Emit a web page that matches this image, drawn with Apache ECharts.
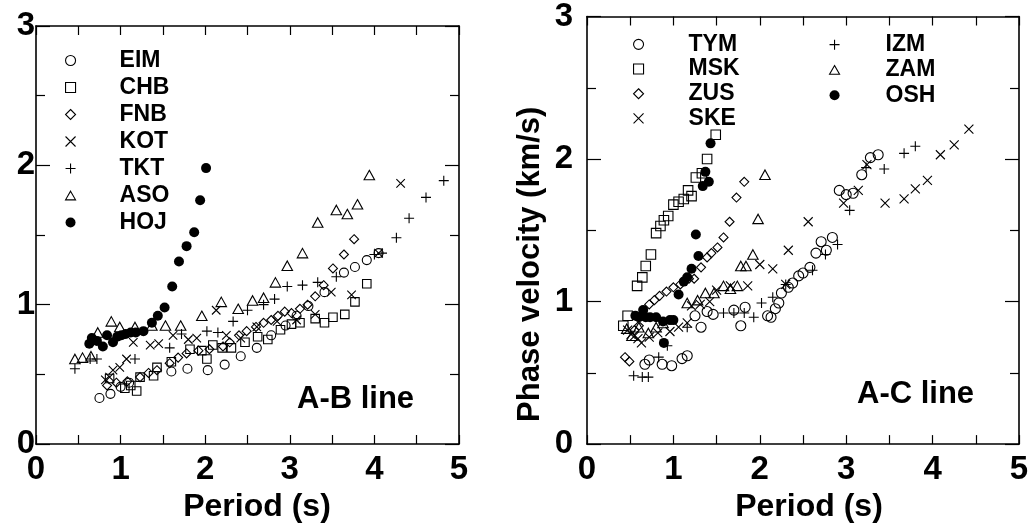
<!DOCTYPE html>
<html>
<head>
<meta charset="utf-8">
<script src="https://cdn.jsdelivr.net/npm/echarts@6/dist/echarts.min.js"></script>
<style>html,body{margin:0;padding:0;background:#fff}#c{width:1032px;height:528px}</style>
</head>
<body>
<div id="c"></div>
<script>
// ---------- data: A-B line ----------
const eimX = [0.75,0.88,1.00,1.10,1.60,1.79,2.03,2.23,2.42,2.61,2.78,2.95,3.08,3.22,3.41,3.64,3.77,3.91,4.05];
const eimY = [0.33,0.36,0.41,0.44,0.52,0.54,0.53,0.57,0.63,0.69,0.78,0.85,0.92,0.99,1.09,1.23,1.27,1.32,1.37];
const chbX = [0.87,1.05,1.12,1.19,1.23,1.39,1.43,1.60,1.82,1.96,2.02,2.09,2.20,2.31,2.47,2.62,2.74,2.89,3.02,3.12,3.30,3.41,3.51,3.65,3.77,3.91];
const chbY = [0.47,0.40,0.42,0.38,0.48,0.49,0.55,0.59,0.68,0.67,0.61,0.71,0.69,0.69,0.73,0.77,0.75,0.82,0.86,0.87,0.90,0.87,0.91,0.93,1.02,1.15];
const fnbX = [0.84,0.95,1.08,1.23,1.33,1.43,1.58,1.68,1.78,1.92,2.05,2.21,2.29,2.40,2.49,2.60,2.69,2.78,2.86,2.94,3.02,3.12,3.21,3.30,3.40,3.51,3.64,3.76];
const fnbY = [0.42,0.44,0.45,0.48,0.51,0.53,0.58,0.62,0.65,0.67,0.68,0.70,0.73,0.78,0.81,0.84,0.87,0.89,0.92,0.95,0.94,0.97,1.00,1.06,1.14,1.26,1.36,1.47];
const kotX = [0.82,0.87,0.91,0.99,1.07,1.15,1.35,1.45,1.62,1.80,1.90,2.13,2.25,2.42,2.61,2.85,3.08,3.30,3.49,3.73,4.05,4.31];
const kotY = [0.46,0.48,0.53,0.55,0.61,0.73,0.71,0.72,0.78,0.75,0.76,0.96,0.78,0.76,0.84,0.88,0.89,0.93,1.09,1.07,1.37,1.87];
const tktX = [0.46,0.64,0.72,1.17,1.58,1.72,2.02,2.15,2.33,2.50,2.69,2.82,2.97,3.15,3.33,3.55,4.00,4.09,4.26,4.41,4.61,4.82];
const tktY = [0.54,0.61,0.61,0.61,0.69,0.79,0.81,0.80,0.88,0.96,1.00,1.04,1.13,1.14,1.16,1.20,1.36,1.37,1.48,1.62,1.77,1.89];
const asoX = [0.46,0.55,0.65,0.73,0.89,0.99,1.17,1.37,1.53,1.71,1.96,2.19,2.39,2.56,2.69,2.83,2.97,3.15,3.33,3.55,3.68,3.80,3.94];
const asoY = [0.61,0.62,0.63,0.80,0.88,0.84,0.84,0.85,0.85,0.85,0.92,1.02,0.97,1.03,1.05,1.16,1.28,1.37,1.59,1.68,1.65,1.72,1.93];
const hojX = [0.63,0.66,0.72,0.79,0.84,0.91,0.96,1.01,1.06,1.12,1.18,1.27,1.37,1.44,1.52,1.61,1.69,1.78,1.87,1.94,2.01];
const hojY = [0.72,0.76,0.74,0.70,0.78,0.73,0.77,0.78,0.79,0.80,0.80,0.81,0.87,0.92,0.98,1.13,1.31,1.42,1.52,1.75,1.98];

// ---------- data: A-C line ----------
const tymX = [0.67,0.72,0.87,0.98,1.10,1.16,1.25,1.32,1.39,1.46,1.70,1.78,1.83,2.09,2.13,2.18,2.22,2.25,2.33,2.38,2.45,2.50,2.58,2.65,2.71,2.77,2.84,2.92,3.00,3.08,3.18,3.28,3.37];
const tymY = [0.56,0.59,0.56,0.55,0.60,0.62,0.90,0.82,0.93,0.91,0.94,0.83,0.96,0.90,0.89,0.95,0.99,1.06,1.10,1.13,1.18,1.20,1.24,1.34,1.42,1.36,1.45,1.78,1.75,1.76,1.89,2.01,2.03];
const mskX = [0.42,0.47,0.58,0.64,0.68,0.74,0.80,0.85,0.89,0.94,1.00,1.06,1.12,1.17,1.21,1.26,1.33,1.39,1.49];
const mskY = [0.83,0.90,1.11,1.17,1.25,1.33,1.48,1.53,1.57,1.60,1.68,1.70,1.72,1.78,1.74,1.87,1.90,2.00,2.17];
const zusX = [0.44,0.49,0.55,0.60,0.66,0.72,0.78,0.84,0.92,1.00,1.08,1.18,1.24,1.32,1.39,1.44,1.51,1.58,1.65,1.73,1.82];
const zusY = [0.61,0.58,0.80,0.83,0.90,0.98,1.01,1.04,1.07,1.10,1.12,1.16,1.16,1.24,1.31,1.34,1.38,1.45,1.56,1.73,1.84];
const skeX = [0.47,0.51,0.55,0.59,0.63,0.72,0.82,0.96,1.06,1.16,1.21,1.31,1.42,1.50,1.66,1.86,2.00,2.15,2.30,2.33,2.56,2.97,3.14,3.24,3.45,3.67,3.80,3.94,4.09,4.25,4.42];
const skeY = [0.80,0.77,0.76,0.74,0.71,0.75,0.78,0.79,0.82,0.85,0.97,0.98,1.00,1.08,1.11,1.11,1.26,1.23,1.12,1.36,1.56,1.69,1.78,1.96,1.69,1.72,1.79,1.85,2.03,2.10,2.21];
const izmX = [0.54,0.64,0.71,0.83,0.93,1.16,1.58,1.70,1.82,1.93,2.02,2.15,2.30,2.61,2.76,2.90,3.04,3.23,3.44,3.67,3.80];
const izmY = [0.48,0.47,0.47,0.61,0.69,0.82,0.92,0.92,0.92,0.89,0.99,1.03,1.12,1.22,1.33,1.40,1.64,1.94,1.93,2.04,2.09];
const zamX = [0.46,0.52,0.60,0.71,0.80,0.88,1.16,1.28,1.37,1.47,1.58,1.66,1.74,1.78,1.84,1.92,1.98,2.06];
const zamY = [0.81,0.76,0.82,0.78,0.82,0.85,0.99,1.01,1.06,1.06,1.11,1.09,1.11,1.25,1.25,1.33,1.58,1.89];
const oshX = [0.56,0.60,0.65,0.68,0.73,0.80,0.88,0.89,0.96,1.00,1.06,1.12,1.16,1.21,1.29,1.26,1.34,1.37,1.41,1.43];
const oshY = [0.90,0.89,0.94,0.89,0.89,0.89,0.86,0.71,0.87,0.87,1.05,1.14,1.17,1.23,1.32,1.47,1.81,1.91,1.84,2.11];

const leftNames = ['EIM','CHB','FNB','KOT','TKT','ASO','HOJ'];
const rightNames1 = ['TYM','MSK','ZUS','SKE'];
const rightNames2 = ['IZM','ZAM','OSH'];
const xTickLabels = ['0','1','2','3','4','5'];
const yTickLabels = ['0','1','2','3'];
const xName = 'Period (s)';
const yName = 'Phase velocity (km/s)';

// ---------- styling ----------
const FONT = "'Liberation Sans', Arial, Helvetica, sans-serif";
const SYM = {
  circle: 'circle',
  square: 'path://M0,0L10,0L10,10L0,10Z',
  diamond: 'path://M5,0L10,5L5,10L0,5Z',
  triangle: 'path://M5,0L10,8.7L0,8.7Z',
  plus: 'path://M0,5L10,5M5,0L5,10',
  cross: 'path://M0,0L10,10M10,0L0,10',
  dot: 'circle'
};
function zip(xs, ys) { return xs.map((x, i) => [x, ys[i]]); }

function series(name, xs, ys, sym, size, gi, filled) {
  return {
    type: 'scatter', name: name, xAxisIndex: gi * 2, yAxisIndex: gi * 2,
    data: zip(xs, ys), symbol: SYM[sym], symbolSize: size,
    itemStyle: filled ? { color: '#000', borderWidth: 0, opacity: 1 }
                      : { color: 'rgba(0,0,0,0)', borderColor: '#000', borderWidth: 1.1, opacity: 1 },
    emphasis: { disabled: true }, silent: true, z: filled ? 3 : 2
  };
}

const lineSty = { color: '#000', width: 1.6 };
function xAxes(gi, padLeft) {
  const base = {
    type: 'value', gridIndex: gi, min: 0, max: 5, interval: 1,
    axisLine: { show: true, onZero: false, lineStyle: lineSty },
    axisTick: { show: true, inside: true, length: 9, lineStyle: { color: '#000', width: 1.2 } },
    minorTick: { show: true, splitNumber: 2, length: 9, lineStyle: { color: '#000', width: 1.2 } },
    splitLine: { show: false }, minorSplitLine: { show: false }
  };
  return [
    Object.assign({}, base, {
      position: 'bottom',
      axisLabel: { show: true, margin: 9, color: '#000', fontSize: 33, fontWeight: 'bold', fontFamily: FONT,
                   formatter: v => xTickLabels[Math.round(v)] },
      name: xName, nameLocation: 'middle', nameGap: 40,
      nameTextStyle: { color: '#000', fontSize: 32, fontWeight: 'bold', fontFamily: FONT, padding: [0, 0, 0, padLeft] }
    }),
    Object.assign({}, base, { position: 'top', axisLabel: { show: false } })
  ];
}
function yAxes(gi, margin, withName) {
  const base = {
    type: 'value', gridIndex: gi, min: 0, max: 3, interval: 1,
    axisLine: { show: true, onZero: false, lineStyle: lineSty },
    axisTick: { show: true, inside: true, length: 14, lineStyle: { color: '#000', width: 1.2 } },
    minorTick: { show: true, splitNumber: 2, length: 9, lineStyle: { color: '#000', width: 1.2 } },
    splitLine: { show: false }, minorSplitLine: { show: false }
  };
  const left = Object.assign({}, base, {
    position: 'left',
    axisLabel: { show: true, margin: margin, color: '#000', fontSize: 33, fontWeight: 'bold', fontFamily: FONT,
                 formatter: v => yTickLabels[Math.round(v)] }
  });
  if (withName) {
    Object.assign(left, {
      name: yName, nameLocation: 'middle', nameGap: 41, nameRotate: 90,
      nameTextStyle: { color: '#000', fontSize: 31, fontWeight: 'bold', fontFamily: FONT, padding: [0, 68, 0, 0] }
    });
  }
  return [left, Object.assign({}, base, { position: 'right', axisLabel: { show: false } })];
}

const legendText = (pad, lh) => ({ color: '#000', fontSize: 23, fontWeight: 'bold', fontFamily: FONT, padding: [0, 0, 0, pad], lineHeight: lh });
function legend(names, left, top, pad, lh) {
  return {
    data: names, orient: 'vertical', left: left, top: top, padding: 0, itemGap: 0,
    itemWidth: 10, itemHeight: 10, selectedMode: false,
    itemStyle: { borderWidth: 1.1, opacity: 1 },
    textStyle: legendText(pad, lh)
  };
}

const option = {
  animation: false,
  backgroundColor: '#fff',
  grid: [
    { left: 36, top: 26, width: 423, height: 418, containLabel: false },
    { left: 587, top: 16, width: 432, height: 429, containLabel: false }
  ],
  xAxis: [...xAxes(0, 19), ...xAxes(1, 12)],
  yAxis: [...yAxes(0, 1, false), ...yAxes(1, 14, true)],
  title: [
    { text: 'A-B line', left: 297, top: 384, padding: 0,
      textStyle: { color: '#000', fontSize: 31, fontWeight: 'bold', fontFamily: FONT } },
    { text: 'A-C line', left: 857, top: 379, padding: 0,
      textStyle: { color: '#000', fontSize: 31, fontWeight: 'bold', fontFamily: FONT } }
  ],
  legend: [
    legend(leftNames, 65, 47, 39, 27),
    legend(rightNames1, 633, 32, 40, 24.7),
    legend(rightNames2, 829, 32, 41, 25.3)
  ],
  series: [
    series('EIM', eimX, eimY, 'circle', 9, 0),
    series('CHB', chbX, chbY, 'square', 8.5, 0),
    series('FNB', fnbX, fnbY, 'diamond', 9, 0),
    series('KOT', kotX, kotY, 'cross', 8.5, 0),
    series('TKT', tktX, tktY, 'plus', 10, 0),
    series('ASO', asoX, asoY, 'triangle', [10.5, 9.5], 0),
    series('HOJ', hojX, hojY, 'dot', 10, 0, true),
    series('TYM', tymX, tymY, 'circle', 10, 1),
    series('MSK', mskX, mskY, 'square', 9.5, 1),
    series('ZUS', zusX, zusY, 'diamond', 9, 1),
    series('SKE', skeX, skeY, 'cross', 9, 1),
    series('IZM', izmX, izmY, 'plus', 10, 1),
    series('ZAM', zamX, zamY, 'triangle', [10.5, 9.5], 1),
    series('OSH', oshX, oshY, 'dot', 10, 1, true)
  ]
};
const chart = echarts.init(document.getElementById('c'), null, { renderer: 'canvas' });
chart.setOption(option);
</script>
</body>
</html>
